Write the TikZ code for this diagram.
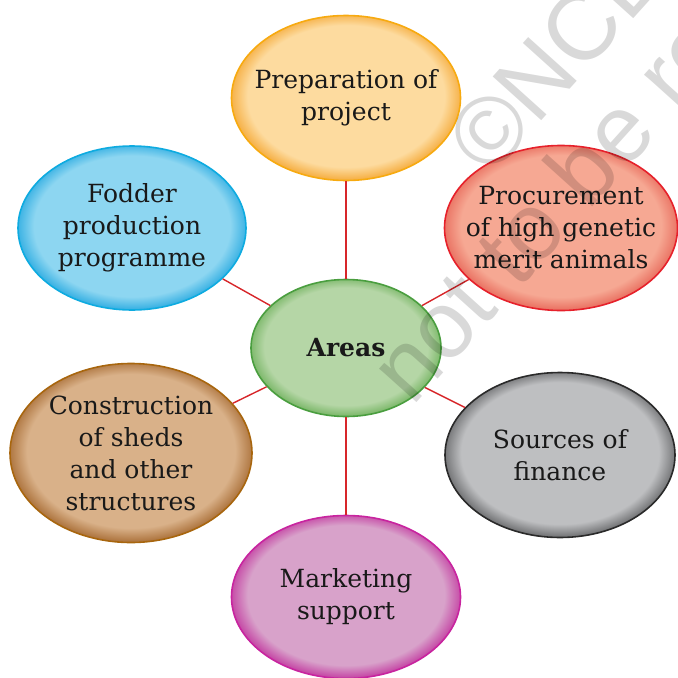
\documentclass[tikz,border=0pt]{standalone}
\usepackage{fontspec}
\setmainfont{DejaVu Serif}
\setsansfont{Liberation Sans}
\usetikzlibrary{shapes.geometric}
\definecolor{linkred}{HTML}{D7262A}
\definecolor{prepin}{HTML}{FDDB9F}
\definecolor{prepout}{HTML}{F6B24A}
\definecolor{prepline}{HTML}{F7AA10}
\definecolor{procin}{HTML}{F6A893}
\definecolor{procout}{HTML}{EA7565}
\definecolor{procline}{HTML}{E6212B}
\definecolor{fodin}{HTML}{8DD6F1}
\definecolor{fodout}{HTML}{3DB3E4}
\definecolor{fodline}{HTML}{0EABE0}
\definecolor{hubin}{HTML}{B5D6A6}
\definecolor{hubout}{HTML}{80BA6E}
\definecolor{hubline}{HTML}{4A9E3F}
\definecolor{shedin}{HTML}{D9B189}
\definecolor{shedout}{HTML}{B07843}
\definecolor{shedline}{HTML}{A8660E}
\definecolor{finin}{HTML}{BEBFC1}
\definecolor{finout}{HTML}{77787A}
\definecolor{finline}{HTML}{2A2A2A}
\definecolor{mktin}{HTML}{D8A2CA}
\definecolor{mktout}{HTML}{C64CA7}
\definecolor{mktline}{HTML}{C8249F}
\pgfdeclareradialshading[bubin,bubout]{bubble}{\pgfpoint{0bp}{1bp}}{%
  color(0bp)=(bubin); color(21.5bp)=(bubin); color(25bp)=(bubout); color(50bp)=(bubout)}
\tikzset{%
  area/.style n args={3}{ellipse,draw=#3,line width=1.6pt,inner sep=-40pt,align=center,
    text=black!90,/utils/exec={\colorlet{bubin}{#1}\colorlet{bubout}{#2}},shading=bubble},
  link/.style={draw=linkred, line width=1.4pt}%
}

\begin{document}
\begin{tikzpicture}[
    x=1pt, y=-1pt,
    font=\fontsize{25}{32}\selectfont,
    wmark/.style={
        font=\sffamily\fontsize{95}{95}\selectfont,
        text=black,
        text opacity=0.15,
        inner sep=0pt,
        rotate=48,
        anchor=base west
    }
]
\useasboundingbox (0,0) rectangle (678,678);

% Centre
\node[area={hubin}{hubout}{hubline}, minimum width=190pt, minimum height=137pt] (areas) at (346,348)
{\textbf{Areas}};

% Outer areas (clockwise from the top)
\node[area={prepin}{prepout}{prepline}, minimum width=229pt, minimum height=165pt] (prep) at (346,98)
{Preparation of\\project};

\node[area={procin}{procout}{procline}, minimum width=233pt, minimum height=165pt] (proc) at (561,228)
{Procurement\\of high genetic\\merit animals};

\node[area={finin}{finout}{finline}, minimum width=230pt, minimum height=165pt] (finance) at (560,455)
{Sources of\\finance};

\node[area={mktin}{mktout}{mktline}, minimum width=229pt, minimum height=163pt] (market) at (346,597)
{Marketing\\support};

\node[area={shedin}{shedout}{shedline}, minimum width=242pt, minimum height=179pt] (sheds) at (131,453)
{Construction\\of sheds\\and other\\structures};

\node[area={fodin}{fodout}{fodline}, minimum width=228pt, minimum height=164pt] (fodder) at (132,228)
{Fodder\\production\\programme};

% Spokes
\draw[link] (areas) -- (prep);
\draw[link] (areas) -- (proc);
\draw[link] (areas) -- (finance);
\draw[link] (areas) -- (market);
\draw[link] (areas) -- (sheds);
\draw[link] (areas) -- (fodder);

% Watermark
\node[wmark] (wmtop) at (490,179) {©NCERT};
\node[wmark] (wmbot) at (412,408) {not to be republished};

\end{tikzpicture}
\end{document}
